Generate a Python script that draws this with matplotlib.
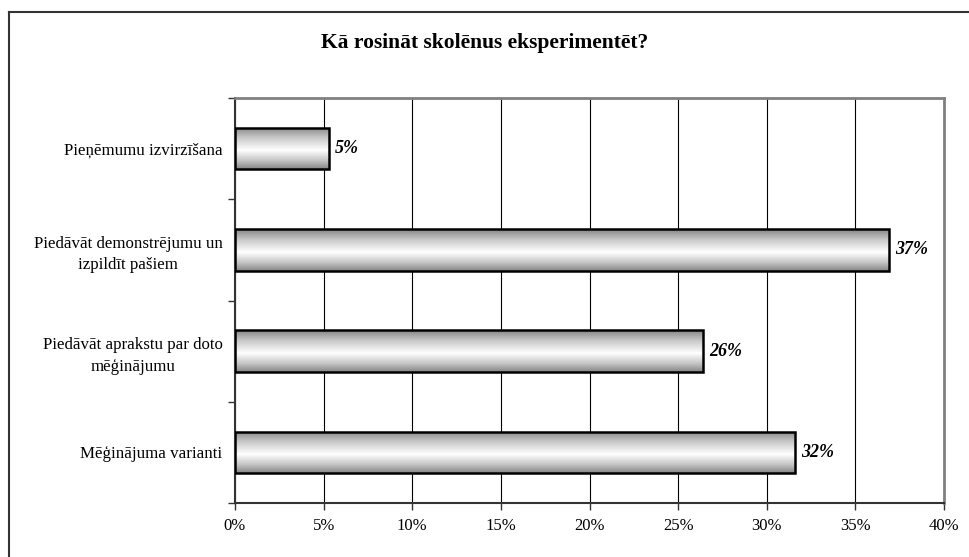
import numpy as np
import matplotlib
matplotlib.use("Agg")
import matplotlib.pyplot as plt
from matplotlib.colors import LinearSegmentedColormap
from matplotlib.ticker import FuncFormatter, FixedLocator
from matplotlib.lines import Line2D

title = "Kā rosināt skolēnus eksperimentēt?"
categories = [
    "Pieņēmumu izvirzīšana",
    "Piedāvāt demonstrējumu un\nizpildīt pašiem",
    "Piedāvāt aprakstu par doto\nmēģinājumu",
    "Mēģinājuma varianti",
]
values = [0.053, 0.369, 0.264, 0.316]
value_labels = ["5%", "37%", "26%", "32%"]
x_ticks = [0.0, 0.05, 0.10, 0.15, 0.20, 0.25, 0.30, 0.35, 0.40]

plt.rcParams['font.family'] = ['Liberation Serif', 'DejaVu Serif']

fig = plt.figure(figsize=(9.7, 5.57), dpi=100)
W, H = 970, 557
ax = fig.add_axes([235 / W, 1 - 503 / H, (944 - 235) / W, (503 - 98) / H])

y = np.arange(len(categories))
bars = ax.barh(y, values, height=0.41, facecolor='none', edgecolor='black',
               linewidth=1.8, zorder=3)

cmap = LinearSegmentedColormap.from_list(
    'grad', [(0.0, '#858585'), (0.25, '#c8c8c8'), (0.55, '#ffffff'),
             (0.8, '#c4c4c4'), (1.0, '#858585')])
grad = np.linspace(0, 1, 256).reshape(-1, 1)
for b in bars:
    x0, y0 = b.get_x(), b.get_y()
    w, h = b.get_width(), b.get_height()
    im = ax.imshow(grad, cmap=cmap, aspect='auto', extent=(x0, x0 + w, y0 + h, y0),
                   zorder=2, interpolation='bilinear')
    im.set_clip_path(b)

for b, lab in zip(bars, value_labels):
    ax.text(b.get_width() + 0.0035, b.get_y() + b.get_height() / 2, lab,
            ha='left', va='center', fontsize=13, fontweight='bold',
            fontstyle='italic', zorder=4)

ax.set_xlim(0, 0.40)
ax.set_ylim(len(categories) - 0.5, -0.5)
ax.set_xticks(x_ticks)
ax.xaxis.set_major_formatter(FuncFormatter(lambda v, p: f"{v * 100:.0f}%"))
ax.tick_params(axis='x', direction='out', length=5, width=1, color='#333333',
               labelsize=12, pad=6)
ax.grid(axis='x', color='black', linewidth=0.8, zorder=1)
ax.set_axisbelow(True)

ax.set_yticks(y)
ax.set_yticklabels(categories, ha='right', multialignment='center', linespacing=1.45)
ax.yaxis.set_minor_locator(FixedLocator(np.arange(-0.5, len(categories), 1.0)))
ax.tick_params(axis='y', which='major', length=0, labelsize=12.2, pad=9)
ax.tick_params(axis='y', which='minor', length=5, width=1, direction='out', color='#333333')

for s in ['top', 'right']:
    ax.spines[s].set_color('#808080')
    ax.spines[s].set_linewidth(2)
ax.spines['left'].set_color('#333333')
ax.spines['left'].set_linewidth(1.5)
ax.spines['bottom'].set_color('#333333')
ax.spines['bottom'].set_linewidth(1.5)

fig.text(485 / W, 1 - 43 / H, title, ha='center', va='center',
         fontsize=15.5, fontweight='bold')

# outer chart border (top and left visible in the crop)
fig.add_artist(Line2D([9 / W, 9 / W], [0, 1 - 12 / H], transform=fig.transFigure,
                      color='#333333', linewidth=1.5))
fig.add_artist(Line2D([9 / W, 1], [1 - 12 / H, 1 - 12 / H], transform=fig.transFigure,
                      color='#333333', linewidth=1.5))

fig.savefig('out.png', dpi=100)
